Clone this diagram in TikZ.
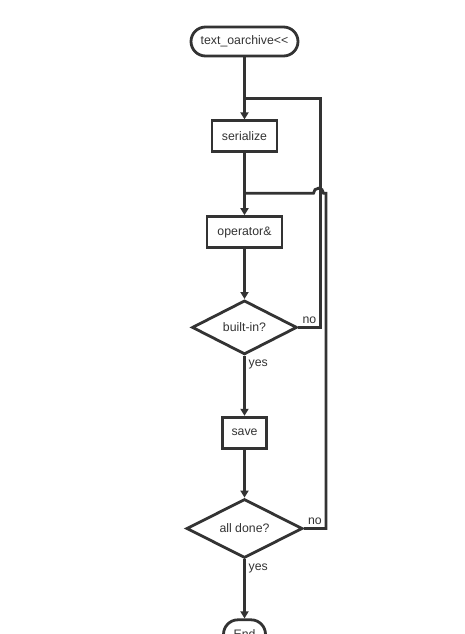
\documentclass[tikz,border=0pt]{standalone}
\usepackage{fontspec}
\setmainfont{Liberation Sans}
\usetikzlibrary{positioning,calc,shapes.geometric,arrows.meta}
\tikzset{line/.style={draw=black!80, line width=2.8pt}}
\tikzstyle{block} = [line, rectangle, minimum height=31pt, inner xsep=10pt, text=black!80]
\tikzstyle{term} = [line, rectangle, rounded corners=14.5pt, minimum height=29pt, minimum width=107pt, text=black!80]
\tikzstyle{decision} = [line, diamond, inner sep=0pt, text=black!80]
\tikzstyle{flow} = [draw=black!80, line width=2.8pt, -{Triangle[length=7pt,width=8pt]}]
\tikzstyle{lbl} = [text=black!80, inner sep=1pt]

\begin{document}
\begin{tikzpicture}[font=\fontsize{12.3}{14}\selectfont]
    \useasboundingbox (0,0) rectangle (465pt,-634pt);

    \node [term] (start) at (244.5pt,-41.5pt) {text\_oarchive{<}{<}};
    \node [block, below=62pt of start, minimum width=64pt] (ser) {serialize};
    \node [block, below=62pt of ser, minimum width=75pt] (op) {operator\&};
    \node [decision, below=50pt of op, minimum width=105pt, minimum height=54pt] (bi) {built-in?};
    \node [block, below=60pt of bi, minimum width=44pt, inner xsep=0pt] (save) {save};
    \node [decision, below=48pt of save, minimum width=116pt, minimum height=59pt] (ad) {all done?};
    \node [term, below=59pt of ad, minimum width=42pt] (end) {End};

    \coordinate [below=41pt of start.south] (j1);
    \coordinate [below=40pt of ser.south] (j2);

    \draw [flow] (start) -- (ser);
    \draw [flow] (ser) -- (op);
    \draw [flow] (op) -- (bi);
    \draw [flow] (bi) -- (save);
    \draw [flow] (save) -- (ad);
    \draw [flow] (ad) -- (end);

    \draw [line] (bi.east) -- ++(22pt,0) |- (j1);
    \draw [line] (ad.east) -- ++(22pt,0) |- ($(j2)+(80pt,0)$)
        -- ++(-1pt,0) arc [start angle=0, end angle=180, radius=5pt] -- (j2);

    \node [lbl, anchor=south west] at ($(bi.east)+(3pt,3pt)$) {no};
    \node [lbl, anchor=north west] at ($(bi.south)+(3pt,-3pt)$) {yes};
    \node [lbl, anchor=south west] at ($(ad.east)+(3pt,3pt)$) {no};
    \node [lbl, anchor=north west] at ($(ad.south)+(3pt,-3pt)$) {yes};
\end{tikzpicture}
\end{document}
